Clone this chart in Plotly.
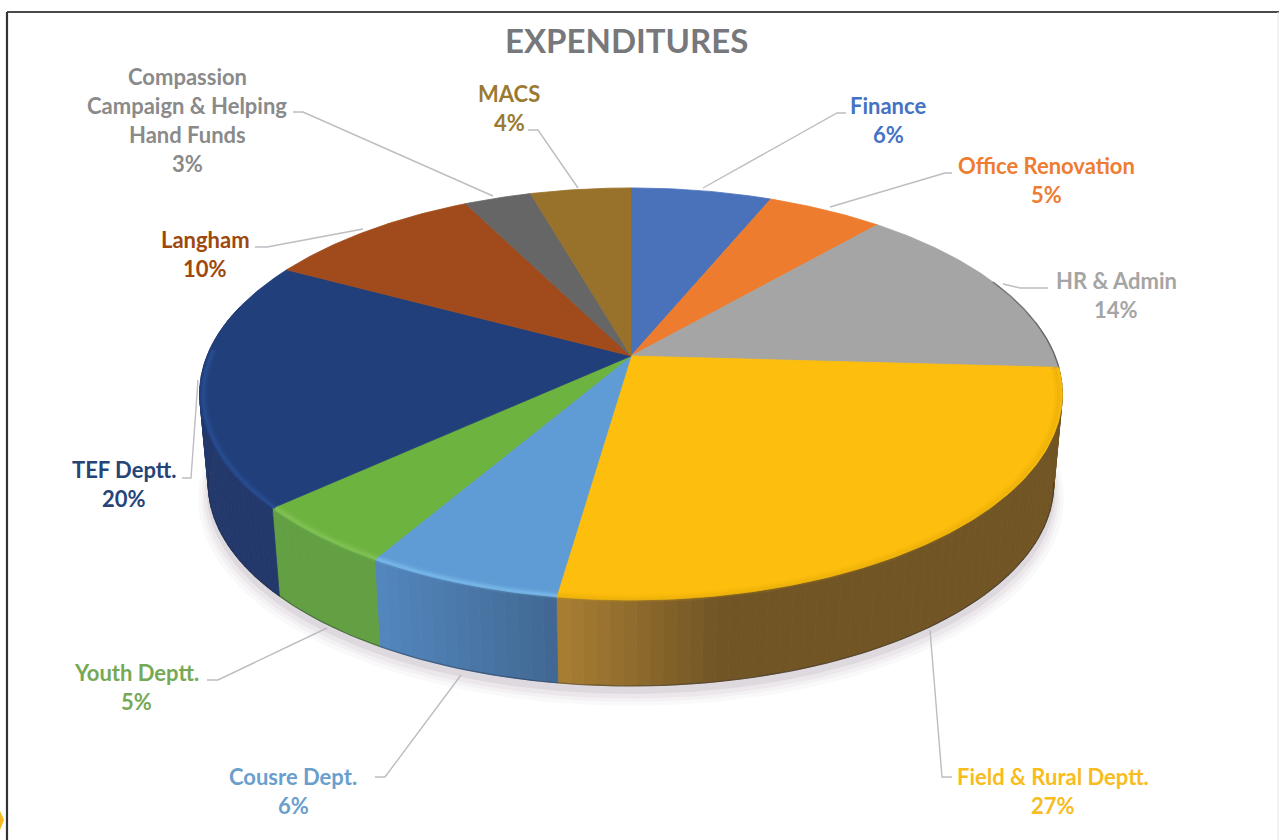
import numpy as np
import plotly.graph_objects as go

# ---- data ----
categories = ["Finance", "Office Renovation", "HR & Admin", "Field & Rural Deptt.", "Cousre Dept.",
              "Youth Deptt.", "TEF Deptt.", "Langham", "Compassion<br>Campaign & Helping<br>Hand Funds", "MACS"]
values = [6.3, 5.2, 14.4, 26.4, 6.2, 4.8, 19.5, 9.7, 3.0, 4.5]
percent_labels = ["6%", "5%", "14%", "27%", "6%", "5%", "20%", "10%", "3%", "4%"]
colors = ["#4A72BB", "#EE7C2E", "#A5A5A5", "#FEBE0D", "#5F9BD4", "#6DB33F", "#213F7A", "#A14B1C", "#666666", "#98722A"]
wall_colors = ["#4472C4", "#ED7D31", "#A5A5A5", "#FFC040", "#5B9BD5", "#6FBA45", "#233F74", "#9E480E", "#636363", "#997300"]
rim_colors = ["#4472C4", "#ED7D31", "#969696", "#e6ad0a", "#86c8f6", "#8fca62", "#2d55a0", "#9E480E", "#636363", "#997300"]
label_colors = ["#4472C4", "#ED7D31", "#A5A5A5", "#F8BC1C", "#6a9fcd", "#76a955", "#264478", "#9E480E", "#8a8a8a", "#9a7a32"]

# ---- layout of labels (pixel space of the hidden axes) ----
label_x = [888, 1046, 1116, 1053, 293, 136, 124, 205, 187, 509]
label_y = [105, 165, 280, 776, 776, 672, 469, 239, 76, 93]
leaders = [
    [(703, 188), (837, 113), (846, 113)],
    [(830, 207), (945, 173), (952, 173)],
    [(1003, 284), (1020, 288), (1048, 288)],
    [(930, 630), (942, 777), (952, 777)],
    [(461, 675), (385, 777), (375, 777)],
    [(327, 628), (218, 680), (207, 680)],
    [(198, 380), (191, 478), (182, 478)],
    [(363, 229), (267, 247), (255, 247)],
    [(493, 196), (303, 112), (293, 112)],
    [(578, 188), (538, 130), (528, 130)],
]

# ---- perspective disc ----
CX, CY = 631, 356
A, B, K = 424.0, 199.0, 0.184
WALL_SCALE, WALL_DROP = 0.98, 91.0


def proj(deg, s=1.0, d=0.0):
    t = np.radians(deg)
    x, y = np.sin(t), np.cos(t)
    w = 1 + K * y
    return CX + s * A * x / w, CY + d - s * B * y / w


def hex2rgb(h):
    return np.array([int(h[i:i + 2], 16) for i in (1, 3, 5)], float)


def rgb(c, alpha=None):
    c = np.clip(c, 0, 255).round().astype(int)
    if alpha is None:
        return f"rgb({c[0]},{c[1]},{c[2]})"
    return f"rgba({c[0]},{c[1]},{c[2]},{alpha})"


def poly(x, y, color):
    return go.Scatter(x=x, y=y, mode="lines", fill="toself", fillcolor=color,
                      line=dict(color=color, width=0.8), hoverinfo="skip", showlegend=False)


def wall_shade(px):
    return np.interp(px, [200, 380, 556, 720, 1060], [0.84, 0.84, 0.64, 0.42, 0.42])


traces = []
circle = np.linspace(0, 360, 361)

# soft shadow
for grow, off, alpha in [(1.024, 14, 0.05), (1.016, 12, 0.07), (1.010, 10, 0.09), (1.004, 7, 0.14)]:
    sx, sy = proj(circle, WALL_SCALE * grow, WALL_DROP + off)
    traces.append(poly(sx, sy, f"rgba(150,135,150,{alpha})"))
    traces[-1].line.width = 0

edges = np.concatenate([[0], np.cumsum(values)]) / sum(values) * 360

# side wall, one strip per degree or so across the front of the disc
for i, col in enumerate(wall_colors):
    lo, hi = max(edges[i], 80), min(edges[i + 1], 285)
    if hi <= lo:
        continue
    steps = np.linspace(lo, hi, max(2, int((hi - lo) / 1.5) + 2))
    base = hex2rgb(col)
    for a0, a1 in zip(steps[:-1], steps[1:]):
        xt0, yt0 = proj(a0)
        xt1, yt1 = proj(a1)
        xb0, yb0 = proj(a0, WALL_SCALE, WALL_DROP)
        xb1, yb1 = proj(a1, WALL_SCALE, WALL_DROP)
        f = wall_shade((xt0 + xt1) / 2)
        c = base * f + np.array([6, 4, 10])
        traces.append(poly([xt0, xt1, xb1, xb0, xt0], [yt0, yt1, yb1, yb0, yt0], rgb(c)))

# dark line along the wall's base
bx, by = proj(np.linspace(100, 262, 200), WALL_SCALE, WALL_DROP)
traces.append(go.Scatter(x=bx, y=by, mode="lines", line=dict(color="rgba(30,35,50,0.4)", width=1.2),
                         hoverinfo="skip", showlegend=False))

# top face wedges
for i, col in enumerate(colors):
    arc = np.linspace(edges[i], edges[i + 1], max(3, int(edges[i + 1] - edges[i]) * 2))
    ax, ay = proj(arc)
    traces.append(poly(np.r_[CX, ax, CX], np.r_[CY, ay, CY], col))

# bevel along the front rim
for i, col in enumerate(rim_colors):
    lo, hi = max(edges[i], 93), min(edges[i + 1], 272)
    if hi <= lo:
        continue
    arc = np.linspace(lo, hi, 60)
    base = hex2rgb(col)
    for s, w, al in [(0.990, 8, 0.12), (0.990, 5, 0.2), (0.992, 3, 0.35)]:
        rx, ry = proj(arc, s)
        traces.append(go.Scatter(x=rx, y=ry + 1, mode="lines", line=dict(color=rgb(base, al), width=w),
                                 hoverinfo="skip", showlegend=False))

# thin dark edge on the grey slice's outer rim
arc = np.linspace(edges[2] + 25, edges[3], 60)
rx, ry = proj(arc)
traces.append(go.Scatter(x=rx, y=ry, mode="lines", line=dict(color="rgba(70,70,75,0.55)", width=1.5),
                         hoverinfo="skip", showlegend=False))

# leader lines
for pts in leaders:
    traces.append(go.Scatter(x=[p[0] for p in pts], y=[p[1] for p in pts], mode="lines",
                             line=dict(color="#bdbdc2", width=1.4), hoverinfo="skip", showlegend=False))

fig = go.Figure(traces)

FONT = "Lato, Carlito, Calibri, sans-serif"
LINE_STEP = 29
annotations = [dict(x=626, y=40, text="<b>EXPENDITURES</b>", showarrow=False, xanchor="center", yanchor="middle",
                    font=dict(family=FONT, size=33, color="#77787b"))]
for name, pct, x, y, col in zip(categories, percent_labels, label_x, label_y, label_colors):
    for j, line in enumerate(name.split("<br>") + [pct]):
        annotations.append(dict(x=x, y=y + j * LINE_STEP, text=f"<b>{line}</b>", showarrow=False,
                                xanchor="center", yanchor="middle",
                                font=dict(family=FONT, size=22, color=col)))

frame = [
    dict(type="line", x0=7, x1=1279, y0=12, y1=12, line=dict(color="#4a4a4a", width=2.2)),
    dict(type="line", x0=7, x1=7, y0=12, y1=840, line=dict(color="#333333", width=2.2)),
    dict(type="line", x0=1278, x1=1278, y0=12, y1=840, line=dict(color="#e4e4e4", width=1)),
    dict(type="path", path="M -6 820 L 0 811 L 4 820 L 0 830 Z", fillcolor="#F5B81F", line=dict(width=0)),
]

fig.update_layout(
    width=1279, height=840, margin=dict(l=0, r=0, t=0, b=0),
    paper_bgcolor="white", plot_bgcolor="white", showlegend=False,
    xaxis=dict(range=[0, 1279], visible=False, fixedrange=True),
    yaxis=dict(range=[840, 0], visible=False, fixedrange=True),
    annotations=annotations, shapes=frame,
)

fig.write_html("out.html", config=dict(displayModeBar=False),
               post_script="document.body.style.margin='0';document.body.style.overflow='hidden';")
